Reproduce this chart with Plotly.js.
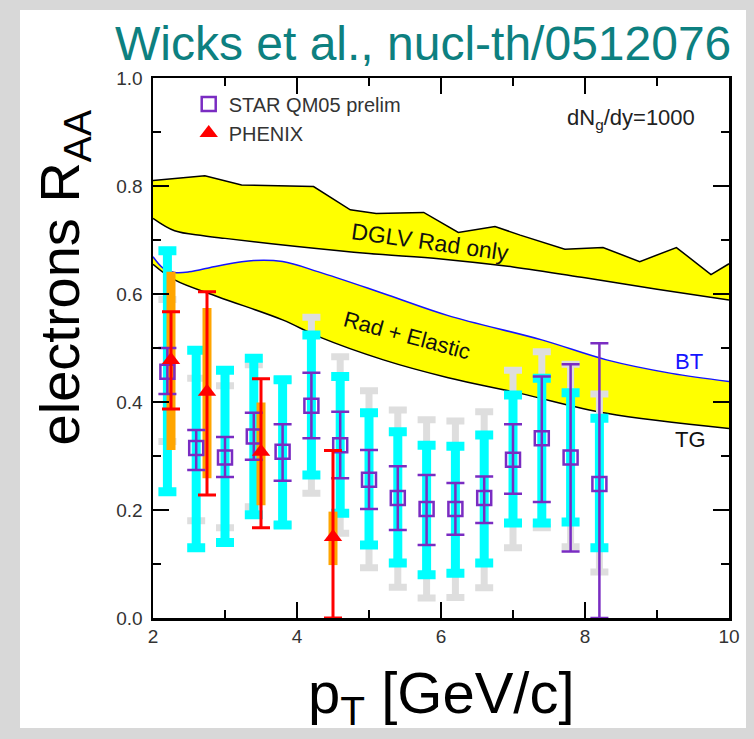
<!DOCTYPE html>
<html>
<head>
<meta charset="utf-8">
<script src="https://cdn.plot.ly/plotly-3.0.1.min.js"></script>
<style>
html,body{margin:0;padding:0;background:#d8d8d8;}
#chart{width:754px;height:739px;}
</style>
</head>
<body>
<div id="chart"></div>
<script>
// ---- Theory bands ----
const dglvUpperX = [2.0, 2.72, 3.23, 4.23, 4.74, 5.1, 5.76, 6.24, 6.75, 7.1, 7.72, 8.25, 8.76, 9.27, 9.75, 10.0];
const dglvUpperY = [0.81, 0.819, 0.802, 0.799, 0.756, 0.749, 0.751, 0.714, 0.725, 0.709, 0.683, 0.686, 0.66, 0.686, 0.636, 0.656];
const dglvLowerX = [2.0, 2.3, 2.7, 3.0, 4.0, 5.0, 6.0, 7.0, 8.0, 9.0, 10.0];
const dglvLowerY = [0.74, 0.717, 0.708, 0.703, 0.688, 0.675, 0.665, 0.65, 0.63, 0.609, 0.589];
const btX = [2.0, 2.14, 2.3, 2.5, 2.9, 3.4, 3.8, 4.3, 5.2, 6.1, 7.4, 8.3, 9.2, 10.0];
const btY = [0.669, 0.648, 0.64, 0.641, 0.652, 0.662, 0.66, 0.641, 0.601, 0.56, 0.515, 0.478, 0.453, 0.438];
const tgX = [2.0, 2.3, 2.9, 3.8, 4.3, 5.2, 6.1, 7.1, 8.3, 10.0];
const tgY = [0.655, 0.626, 0.595, 0.552, 0.521, 0.478, 0.445, 0.416, 0.379, 0.351];

// ---- STAR QM05 preliminary ----
const starX = [2.2, 2.6, 3.0, 3.4, 3.8, 4.2, 4.6, 5.0, 5.4, 5.8, 6.2, 6.6, 7.0, 7.4, 7.8, 8.2];
const starY = [0.456, 0.315, 0.297, 0.336, 0.308, 0.393, 0.32, 0.256, 0.222, 0.202, 0.202, 0.222, 0.293, 0.333, 0.297, 0.248];
const starStatHi = [0.50, 0.348, 0.335, 0.38, 0.359, 0.454, 0.382, 0.311, 0.281, 0.265, 0.25, 0.262, 0.359, 0.447, 0.47, 0.509];
const starStatLo = [0.415, 0.274, 0.261, 0.293, 0.254, 0.333, 0.259, 0.202, 0.163, 0.135, 0.154, 0.176, 0.23, 0.215, 0.123, 0.0];
const starSysHi = [0.68, 0.496, 0.459, 0.481, 0.441, 0.524, 0.447, 0.38, 0.345, 0.32, 0.318, 0.339, 0.413, 0.444, 0.417, 0.37];
const starSysLo = [0.234, 0.13, 0.14, 0.191, 0.172, 0.265, 0.194, 0.135, 0.102, 0.08, 0.083, 0.102, 0.176, 0.176, 0.178, 0.13];
const starNormHi = [0.59, 0.444, 0.43, 0.469, 0.441, 0.557, 0.484, 0.421, 0.385, 0.367, 0.365, 0.382, 0.459, 0.493, 0.47, 0.415];
const starNormLo = [0.327, 0.18, 0.167, 0.206, 0.172, 0.231, 0.157, 0.093, 0.057, 0.037, 0.038, 0.056, 0.13, 0.167, 0.132, 0.085];

// ---- PHENIX ----
const phenixX = [2.25, 2.75, 3.5, 4.5];
const phenixY = [0.478, 0.419, 0.308, 0.15];
const phenixStatHi = [0.567, 0.604, 0.443, 0.31];
const phenixStatLo = [0.387, 0.228, 0.167, 0.0];
const phenixSysHi = [0.641, 0.574, 0.399, 0.197];
const phenixSysLo = [0.311, 0.259, 0.209, 0.098];

const up = (hi, y) => hi.map((h, i) => h - y[i]);
const dn = (lo, y) => lo.map((l, i) => y[i] - l);

const PURPLE = '#7a2cc2';
const traces = [
  // DGLV band
  {x: dglvLowerX, y: dglvLowerY, mode: 'lines', line: {color: '#000', width: 1.5, shape: 'spline'}, showlegend: false, hoverinfo: 'skip'},
  {x: dglvUpperX, y: dglvUpperY, mode: 'lines', fill: 'tonexty', fillcolor: '#ffff00', line: {color: '#000', width: 1.5}, showlegend: false, hoverinfo: 'skip'},
  // Rad + Elastic band
  {x: tgX, y: tgY, mode: 'lines', line: {color: '#000', width: 1.5, shape: 'spline'}, showlegend: false, hoverinfo: 'skip'},
  {x: btX, y: btY, mode: 'lines', fill: 'tonexty', fillcolor: '#ffff00', line: {color: '#1414ff', width: 1.5, shape: 'spline'}, showlegend: false, hoverinfo: 'skip'},
  // STAR normalisation (gray)
  {x: starX, y: starY, mode: 'markers', marker: {size: 1, opacity: 0}, showlegend: false, hoverinfo: 'skip',
   error_y: {type: 'data', symmetric: false, array: up(starNormHi, starY), arrayminus: dn(starNormLo, starY), color: '#dedede', thickness: 7, width: 9}},
  // STAR systematics (cyan)
  {x: starX, y: starY, mode: 'markers', marker: {size: 1, opacity: 0}, showlegend: false, hoverinfo: 'skip',
   error_y: {type: 'data', symmetric: false, array: up(starSysHi, starY), arrayminus: dn(starSysLo, starY), color: '#00ffff', thickness: 9, width: 9}},
  // PHENIX systematics (orange)
  {x: phenixX, y: phenixY, mode: 'markers', marker: {size: 1, opacity: 0}, showlegend: false, hoverinfo: 'skip',
   error_y: {type: 'data', symmetric: false, array: up(phenixSysHi, phenixY), arrayminus: dn(phenixSysLo, phenixY), color: '#ffa500', thickness: 9, width: 0}},
  // STAR stat
  {x: starX, y: starY, mode: 'markers', name: 'STAR QM05 prelim', legendgroup: 'a',
   marker: {symbol: 'square-open', size: 14, color: PURPLE, line: {width: 2.5, color: PURPLE}},
   error_y: {type: 'data', symmetric: false, array: up(starStatHi, starY), arrayminus: dn(starStatLo, starY), color: PURPLE, thickness: 2.5, width: 9}},
  // PHENIX stat
  {x: phenixX, y: phenixY, mode: 'markers', name: 'PHENIX', legendgroup: 'b',
   marker: {symbol: 'triangle-up', size: 16, color: '#ff0000'},
   error_y: {type: 'data', symmetric: false, array: up(phenixStatHi, phenixY), arrayminus: dn(phenixStatLo, phenixY), color: '#ff0000', thickness: 3, width: 9}}
];

const F = 'Liberation Sans, Arial, Helvetica, sans-serif';
const layout = {
  width: 754, height: 739,
  margin: {l: 153, r: 25, t: 78, b: 121},
  paper_bgcolor: '#d8d8d8',
  plot_bgcolor: '#ffffff',
  font: {family: F, color: '#333'},
  showlegend: true,
  legend: {x: 0.062, y: 0.988, xanchor: 'left', yanchor: 'top', bgcolor: 'rgba(0,0,0,0)',
           font: {size: 20, color: '#333', family: F}, tracegroupgap: 0, itemwidth: 30},
  xaxis: {range: [2, 10], tick0: 2, dtick: 2, ticks: 'inside', ticklen: 16, tickwidth: 2, tickcolor: '#000',
          showline: true, linewidth: 2.5, linecolor: '#000', mirror: 'ticks', showgrid: false, zeroline: false,
          minor: {dtick: 1, ticks: 'inside', ticklen: 8, tickwidth: 2, tickcolor: '#000', showgrid: false},
          tickfont: {size: 19, color: '#333', family: F}},
  yaxis: {range: [0, 1], tick0: 0, dtick: 0.2, tickformat: '.1f', ticks: 'inside', ticklen: 16, tickwidth: 2, tickcolor: '#000',
          showline: true, linewidth: 2.5, linecolor: '#000', mirror: 'ticks', showgrid: false, zeroline: false,
          minor: {dtick: 0.1, ticks: 'inside', ticklen: 8, tickwidth: 2, tickcolor: '#000', showgrid: false},
          tickfont: {size: 19, color: '#333', family: F}, ticklabelstandoff: 4},
  shapes: [
    {type: 'rect', xref: 'paper', yref: 'paper', x0: -0.2309, x1: 1.0295, y0: -0.2037, y1: 1.1259,
     fillcolor: '#ffffff', line: {width: 0}, layer: 'below'}
  ],
  annotations: [
    {text: 'Wicks et al., nucl-th/0512076', xref: 'paper', yref: 'paper', x: 0.469, y: 1.064, showarrow: false,
     xanchor: 'center', yanchor: 'middle', font: {size: 48, color: '#0d8080', family: F}},
    {text: 'electrons R<sub>AA</sub>', xref: 'paper', yref: 'paper', x: -0.156, y: 0.631, showarrow: false,
     textangle: -90, xanchor: 'center', yanchor: 'middle', font: {size: 56, color: '#000', family: F}},
    {text: 'p<sub>T</sub> [GeV/c]', xref: 'paper', yref: 'paper', x: 0.5, y: -0.146, showarrow: false,
     xanchor: 'center', yanchor: 'middle', font: {size: 58, color: '#000', family: F}},
    {text: 'dN<sub>g</sub>/dy=1000', x: 8.64, y: 0.925, showarrow: false, xanchor: 'center', yanchor: 'middle',
     font: {size: 22, color: '#222', family: F}},
    {text: 'DGLV Rad only', x: 5.85, y: 0.697, textangle: 8, showarrow: false, font: {size: 23, color: '#111', family: F}},
    {text: 'Rad + Elastic', x: 5.53, y: 0.524, textangle: 15, showarrow: false, font: {size: 22, color: '#111', family: F}},
    {text: 'BT', x: 9.44, y: 0.475, showarrow: false, font: {size: 22, color: '#1414ff', family: F}},
    {text: 'TG', x: 9.46, y: 0.331, showarrow: false, font: {size: 22, color: '#111', family: F}}
  ]
};

Plotly.newPlot('chart', traces, layout, {displayModeBar: false, staticPlot: true});
</script>
</body>
</html>
